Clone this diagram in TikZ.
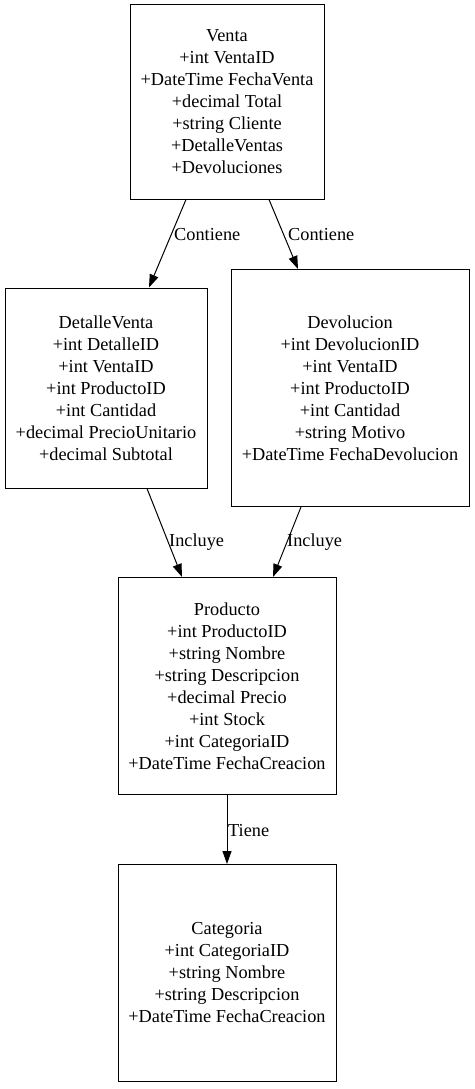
\documentclass[tikz,border=0pt]{standalone}
\usepackage{fontspec}
\setmainfont{Liberation Serif}
\usetikzlibrary{arrows.meta}
\begin{document}
\begin{tikzpicture}[x=1pt,y=-1pt,
  entity/.style={draw,line width=1pt,align=center,inner sep=0pt,
    font=\fontsize{18.3}{22}\selectfont},
  rel/.style={line width=1pt,-{Triangle[length=13pt,width=9pt]}},
  lbl/.style={anchor=west,inner sep=0pt,font=\fontsize{18.3}{22}\selectfont}]
\useasboundingbox (0,0) rectangle (474,1089);
\node[entity,minimum width=194pt,minimum height=194pt] (venta) at (227,102)
  {Venta\\+int VentaID\\+DateTime FechaVenta\\+decimal Total\\+string Cliente\\+DetalleVentas\\+Devoluciones};
\node[entity,minimum width=202pt,minimum height=200pt] (detalle) at (106,388)
  {DetalleVenta\\+int DetalleID\\+int VentaID\\+int ProductoID\\+int Cantidad\\+decimal PrecioUnitario\\+decimal Subtotal};
\node[entity,minimum width=238pt,minimum height=237pt] (devol) at (350,388)
  {Devolucion\\+int DevolucionID\\+int VentaID\\+int ProductoID\\+int Cantidad\\+string Motivo\\+DateTime FechaDevolucion};
\node[entity,minimum width=218pt,minimum height=217pt] (producto) at (227,686)
  {Producto\\+int ProductoID\\+string Nombre\\+string Descripcion\\+decimal Precio\\+int Stock\\+int CategoriaID\\+DateTime FechaCreacion};
\node[entity,minimum width=218pt,minimum height=217pt] (categoria) at (227,973)
  {Categoria\\+int CategoriaID\\+string Nombre\\+string Descripcion\\+DateTime FechaCreacion};
\draw[rel] ([xshift=-41pt]venta.south) -- ([xshift=43pt]detalle.north);
\draw[rel] ([xshift=42pt]venta.south) -- ([xshift=-52pt]devol.north);
\draw[rel] ([xshift=41pt]detalle.south) -- ([xshift=-45pt]producto.north);
\draw[rel] ([xshift=-49pt]devol.south) -- ([xshift=46pt]producto.north);
\draw[rel] (producto.south) -- (categoria.north);
\node[lbl] (l1) at (174,235) {Contiene};
\node[lbl] (l2) at (288,235) {Contiene};
\node[lbl] (l3) at (169,542) {Incluye};
\node[lbl] (l4) at (287,542) {Incluye};
\node[lbl] (l5) at (228,831) {Tiene};
\end{tikzpicture}
\end{document}
